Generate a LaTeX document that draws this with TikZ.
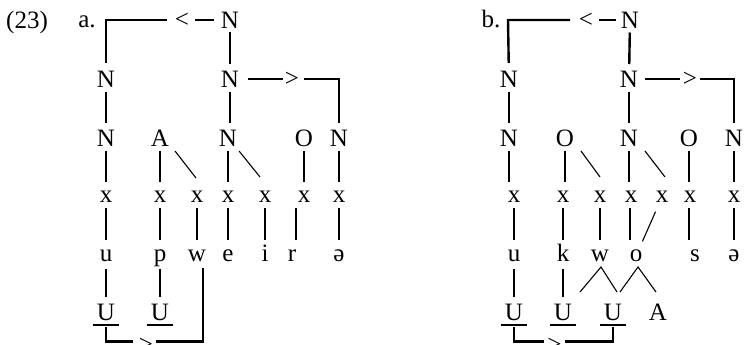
\documentclass[tikz,border=0pt]{standalone}
\usepackage{fontspec}
\setmainfont{Liberation Serif}
\usetikzlibrary{calc}
\begin{document}
\begin{tikzpicture}[x=1pt,y=-1pt,
  every node/.style={inner sep=0pt, font=\fontsize{25}{29}\selectfont},
  capn/.style={text height=16.4pt, text depth=0pt},
  lown/.style={text height=11.4pt, text depth=0pt},
  bl/.style={line width=2.4pt},
  vl/.style={line width=2.4pt, shorten <=12.5pt, shorten >=15pt},
  vlx/.style={line width=2.4pt, shorten <=11pt, shorten >=16pt},
  dl/.style={line width=1.1pt},
  ul/.style={line width=1.2pt}]
\useasboundingbox (0,0) rectangle (744,345);

% ---------- panel a ----------
\node[capn] (ex) at (27,20) {(23)};
\node[lown] (la) at (87,22) {a.};
\node[capn] (Nta) at (230,20) {N};
\node (lta) at (182,20) {<};
\coordinate (ca1) at (106,20);
\node[capn] (N1La) at (106,79) {N};
\node[capn] (N1Ra) at (230,79) {N};
\node (gta) at (292,79) {>};
\coordinate (ca2) at (339,79);
\node[capn] (N2a1) at (106,138) {N};
\node[capn] (Aa) at (160,138) {A};
\node[capn] (N2a2) at (228,138) {N};
\node[capn] (Oa) at (304,138) {O};
\node[capn] (N2a3) at (339,138) {N};
\node[lown] (xa1) at (106,197) {x};
\node[lown] (xa2) at (160,197) {x};
\node[lown] (xa3) at (197,197) {x};
\node[lown] (xa4) at (228,197) {x};
\node[lown] (xa5) at (265,197) {x};
\node[lown] (xa6) at (304,197) {x};
\node[lown] (xa7) at (339,197) {x};
\node[lown] (ua) at (106,256) {u};
\node[lown] (pa) at (160,256) {p};
\node[lown] (wa) at (197,256) {w};
\node[lown] (ea) at (228,256) {e};
\node[lown] (ia) at (265,256) {i};
\node[lown] (ra) at (292,256) {r};
\node[lown] (sca) at (339,256) {ə};
\node[capn] (U1a) at (106,312) {U};
\node[capn] (U2a) at (160,312) {U};
\node (gba) at (146,345) {>};
\coordinate (ca3) at (106,341.5);
\coordinate (ca4) at (203,341.5);

\draw[bl, shorten <=15pt, shorten >=16pt] (lta.center) -- (ca1) -- (N1La.center);
\draw[bl, shorten <=13pt, shorten >=16pt] (lta.center) -- (Nta.center);
\draw[vl] (Nta.center) -- (N1Ra.center);
\draw[vl] (N1La.center) -- (N2a1.center);
\draw[vl] (N1Ra.center) -- (N1Ra.center |- N2a2.center);
\draw[bl, shorten <=18pt, shorten >=9.5pt] (N1Ra.center) -- (gta.center);
\draw[bl, shorten <=12pt, shorten >=15pt] (gta.center) -- (ca2) -- (N2a3.center);
\draw[vl] (N2a1.center) -- (xa1.center);
\draw[vl] (Aa.center) -- (xa2.center);
\draw[vl] (N2a2.center) -- (xa4.center);
\draw[vl] (Oa.center) -- (xa6.center);
\draw[vl] (N2a3.center) -- (xa7.center);
\draw[dl] ($(Aa.center)+(15,13)$) -- ($(xa3.center)+(-1,-19)$);
\draw[dl] ($(N2a2.center)+(11,13)$) -- ($(xa5.center)+(-5,-20)$);
\draw[vlx] (xa1.center) -- (ua.center);
\draw[vlx] (xa2.center) -- (pa.center);
\draw[vlx] (xa3.center) -- (wa.center);
\draw[vlx] (xa4.center) -- (ea.center);
\draw[vlx] (xa5.center) -- (ia.center);
\draw[vlx] ([xshift=-8pt]xa6.center) -- ([xshift=4pt]ra.center);
\draw[vlx] (xa7.center) -- (sca.center);
\draw[vl] (ua.center) -- (U1a.center);
\draw[vl] (pa.center) -- (U2a.center);
\draw[bl, shorten <=15pt, shorten >=13pt] (U1a.center) -- (ca3) -- (gba.center |- ca3);
\draw[bl, shorten <=10pt, shorten >=12pt] (gba.center |- ca3) -- (ca4) -- ([xshift=6pt]wa.center);
\draw[ul] ($(U1a.south west)+(-4,4.5)$) -- ($(U1a.south east)+(4,4.5)$);
\draw[ul] ($(U2a.south west)+(-4,4.5)$) -- ($(U2a.south east)+(4,4.5)$);

% ---------- panel b ----------
\node[lown] (lb) at (491,22) {b.};
\node[capn] (Ntb) at (630,20) {N};
\node (ltb) at (586,20) {<};
\coordinate (cb1) at (508,20);
\node[capn] (N1Lb) at (509,79) {N};
\node[capn] (N1Rb) at (629,79) {N};
\node (gtb) at (690,79) {>};
\coordinate (cb2) at (734,79);
\node[capn] (N2b1) at (509,138) {N};
\node[capn] (Ob) at (565,138) {O};
\node[capn] (N2b2) at (629,138) {N};
\node[capn] (Ob2) at (689,138) {O};
\node[capn] (N2b3) at (734,138) {N};
\node[lown] (xb1) at (514,197) {x};
\node[lown] (xb2) at (563,197) {x};
\node[lown] (xb3) at (600,197) {x};
\node[lown] (xb4) at (631,197) {x};
\node[lown] (xb5) at (662,197) {x};
\node[lown] (xb6) at (690,197) {x};
\node[lown] (xb7) at (734,197) {x};
\node[lown] (ub) at (514,256) {u};
\node[lown] (kb) at (563,256) {k};
\node[lown] (wb) at (600,256) {w};
\node[lown] (ob) at (636,256) {o};
\node[lown] (sb) at (695,256) {s};
\node[lown] (scb) at (734,256) {ə};
\node[capn] (U1b) at (514,312) {U};
\node[capn] (U2b) at (563,312) {U};
\node[capn] (U3b) at (613,312) {U};
\node[capn] (Ab) at (658,312) {A};
\node (gbb) at (554.5,345) {>};
\coordinate (cb3) at (514,341.5);
\coordinate (cb4) at (613,341.5);

\draw[bl, shorten <=16pt, shorten >=16pt] (ltb.center) -- (cb1) -- (N1Lb.center);
\draw[bl, shorten <=13pt, shorten >=14pt] (ltb.center) -- (Ntb.center);
\draw[vl] (Ntb.center) -- (N1Rb.center);
\draw[vl] (N1Lb.center) -- (N2b1.center);
\draw[vl] (N1Rb.center) -- (N2b2.center);
\draw[bl, shorten <=16pt, shorten >=10pt] (N1Rb.center) -- (gtb.center);
\draw[bl, shorten <=10pt, shorten >=15pt] (gtb.center) -- (cb2) -- (N2b3.center);
\draw[vl] (N2b1.center) -- (N2b1.center |- xb1.center);
\draw[vl] (Ob.center) -- (Ob.center |- xb2.center);
\draw[vl] (N2b2.center) -- (N2b2.center |- xb4.center);
\draw[vl] (Ob2.center) -- (Ob2.center |- xb6.center);
\draw[vl] (N2b3.center) -- (xb7.center);
\draw[dl] ($(Ob.center)+(16,13)$) -- ($(xb3.center)+(0,-20)$);
\draw[dl] ($(N2b2.center)+(16,13)$) -- ($(xb5.center)+(3,-20)$);
\draw[vlx] (xb1.center) -- (ub.center);
\draw[vlx] (xb2.center) -- (kb.center);
\draw[vlx] (xb3.center) -- (wb.center);
\draw[vlx] ([xshift=-1pt]xb4.center) -- ([xshift=-1pt]xb4.center |- ob.center);
\draw[dl, shorten <=16pt, shorten >=16pt] (xb5.center) -- (ob.center);
\draw[vlx] ([xshift=-1pt]xb6.center) -- ([xshift=-1pt]xb6.center |- sb.center);
\draw[vlx] (xb7.center) -- (scb.center);
\draw[vl] (ub.center) -- (U1b.center);
\draw[vl] (kb.center) -- (U2b.center);
\draw[dl] ($(U2b.center)+(17,-20)$) -- ($(wb.center)+(1,11)$) -- ($(U3b.center)+(4,-20)$);
\draw[dl] ($(U3b.center)+(7,-20)$) -- ($(ob.center)+(2,11)$) -- ($(Ab.center)+(-2,-20)$);
\draw[bl, shorten <=15pt, shorten >=10.5pt] (U1b.center) -- (cb3) -- (gbb.center |- cb3);
\draw[bl, shorten <=10.5pt, shorten >=15pt] (gbb.center |- cb3) -- (cb4) -- (U3b.center);
\draw[ul] ($(U1b.south west)+(-4,4.5)$) -- ($(U1b.south east)+(4,4.5)$);
\draw[ul] ($(U2b.south west)+(-4,4.5)$) -- ($(U2b.south east)+(4,4.5)$);
\draw[ul] ($(U3b.south west)+(-4,4.5)$) -- ($(U3b.south east)+(4,4.5)$);
\end{tikzpicture}
\end{document}
